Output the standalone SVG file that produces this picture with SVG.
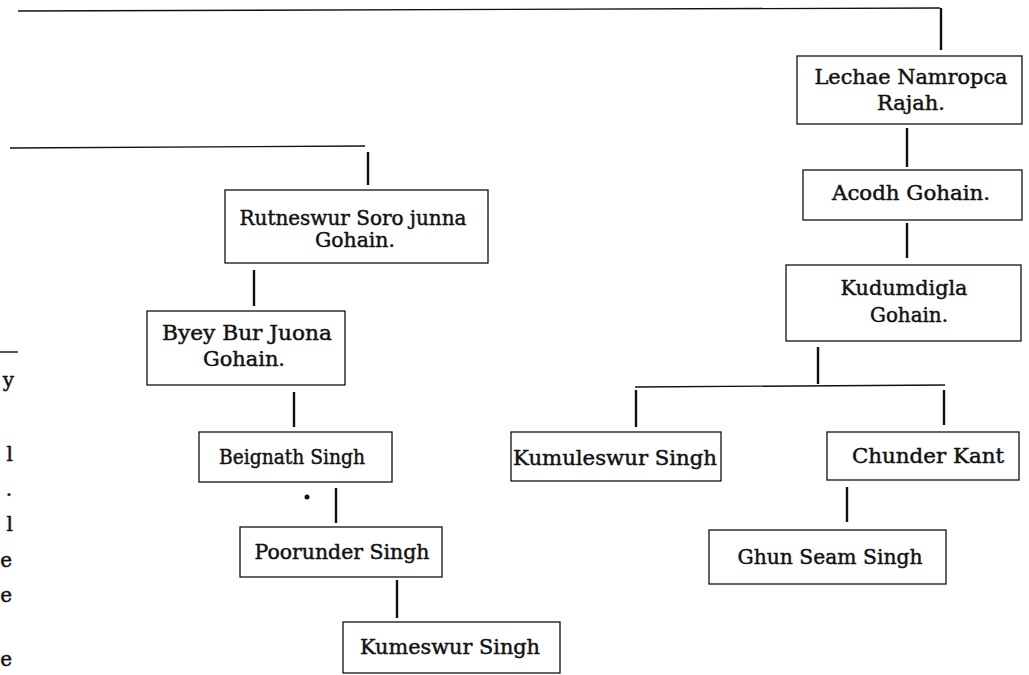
<svg xmlns="http://www.w3.org/2000/svg" width="1029" height="675" viewBox="0 0 1029 675">
<style>
.bg{fill:#fff}
.box{fill:none;stroke:#111;stroke-width:1.3}
.ln{fill:none;stroke:#111;stroke-width:1.4}
.cn{fill:none;stroke:#111;stroke-width:2.4}
text{font-family:"DejaVu Serif","Liberation Serif",serif;font-size:20px;fill:#111;stroke:#111;stroke-width:0.45;text-anchor:middle}
.m{text-anchor:end}
</style>
<rect class="bg" x="0" y="0" width="1029" height="675"/>
<g id="connectors">
<path class="ln" d="M18,11 L940,8"/>
<path class="cn" d="M941,8 L941,50"/>
<path class="ln" d="M10,148 L365,146"/>
<path class="cn" d="M368,152 L368,185"/>
<path class="cn" d="M907,128 L907,167"/>
<path class="cn" d="M907,223 L907,258"/>
<path class="cn" d="M818,347 L818,384"/>
<path class="ln" d="M635,387 L945,385"/>
<path class="cn" d="M636,390 L636,427"/>
<path class="cn" d="M944,390 L944,425"/>
<path class="cn" d="M254,270 L254,306"/>
<path class="cn" d="M294,392 L294,427"/>
<path class="cn" d="M336,488 L336,523"/>
<path class="cn" d="M397,580 L397,618"/>
<path class="cn" d="M847,487 L847,522"/>
</g>
<g id="lechae"><rect class="box" x="797" y="56" width="225" height="68"/><text x="911" y="84" textLength="193" lengthAdjust="spacingAndGlyphs">Lechae Namropca</text><text x="911" y="110" textLength="68" lengthAdjust="spacingAndGlyphs">Rajah.</text></g>
<g id="acodh"><rect class="box" x="803" y="170" width="219" height="50"/><text x="911" y="200" textLength="158" lengthAdjust="spacingAndGlyphs">Acodh Gohain.</text></g>
<g id="kudumdigla"><rect class="box" x="786" y="265" width="235" height="76"/><text x="904" y="295" textLength="127" lengthAdjust="spacingAndGlyphs">Kudumdigla</text><text x="909" y="322" textLength="78" lengthAdjust="spacingAndGlyphs">Gohain.</text></g>
<g id="rutneswur"><rect class="box" x="225" y="190" width="263" height="73"/><text x="353" y="225" textLength="227" lengthAdjust="spacingAndGlyphs">Rutneswur Soro junna</text><text x="355" y="247" textLength="80" lengthAdjust="spacingAndGlyphs">Gohain.</text></g>
<g id="byey"><rect class="box" x="147" y="311" width="198" height="74"/><text x="247" y="340" textLength="170" lengthAdjust="spacingAndGlyphs">Byey Bur Juona</text><text x="244" y="366" textLength="82" lengthAdjust="spacingAndGlyphs">Gohain.</text></g>
<g id="beignath"><rect class="box" x="199" y="432" width="193" height="50"/><text x="292" y="464" textLength="146" lengthAdjust="spacingAndGlyphs">Beignath Singh</text></g>
<g id="poorunder"><rect class="box" x="240" y="527" width="202" height="50"/><text x="342" y="559" textLength="175" lengthAdjust="spacingAndGlyphs">Poorunder Singh</text></g>
<g id="kumeswur"><rect class="box" x="343" y="622" width="217" height="51"/><text x="450" y="654" textLength="180" lengthAdjust="spacingAndGlyphs">Kumeswur Singh</text></g>
<g id="kumuleswur"><rect class="box" x="511" y="432" width="210" height="49"/><text x="615" y="465" textLength="204" lengthAdjust="spacingAndGlyphs">Kumuleswur Singh</text></g>
<g id="chunder"><rect class="box" x="827" y="432" width="192" height="48"/><text x="928" y="463" textLength="152" lengthAdjust="spacingAndGlyphs">Chunder Kant</text></g>
<g id="ghun"><rect class="box" x="709" y="530" width="237" height="54"/><text x="830" y="564" textLength="185" lengthAdjust="spacingAndGlyphs">Ghun Seam Singh</text></g>
<circle cx="307" cy="497" r="2.5" fill="#111"/>
<g id="margin">
<path class="ln" d="M0,352 L18,352"/>
<text class="m" x="14" y="387">y</text>
<text class="m" x="13" y="461">l</text>
<text class="m" x="12" y="496">.</text>
<text class="m" x="13" y="531">l</text>
<text class="m" x="12" y="567">e</text>
<text class="m" x="12" y="602">e</text>
<text class="m" x="12" y="666">e</text>
</g>
</svg>
